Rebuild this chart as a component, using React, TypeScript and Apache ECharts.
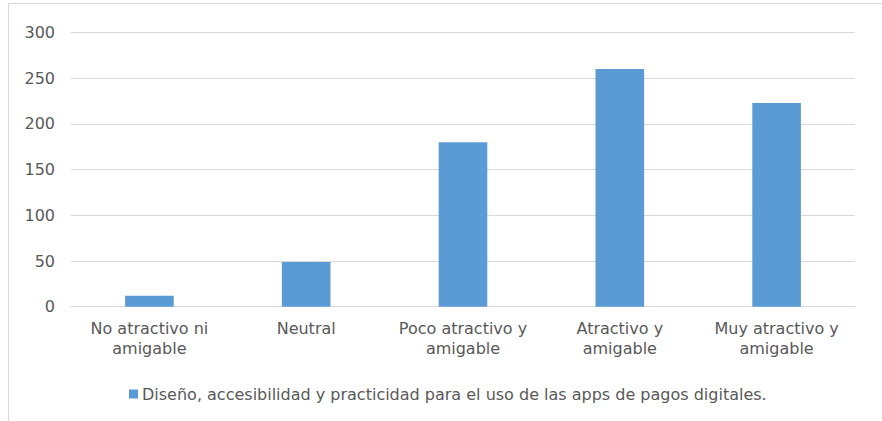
import React, { useEffect, useRef } from "react";
import * as echarts from "echarts";

const categories = [
  "No atractivo ni\namigable",
  "Neutral",
  "Poco atractivo y\namigable",
  "Atractivo y\namigable",
  "Muy atractivo y\namigable",
];
const values = [12, 49, 180, 260, 223];
const seriesName =
  "Diseño, accesibilidad y practicidad para el uso de las apps de pagos digitales.";
const yMin = 0;
const yMax = 300;
const yInterval = 50;

export default function App() {
  const ref = useRef<HTMLDivElement>(null);
  useEffect(() => {
    if (!ref.current) return;
    const chart = echarts.init(ref.current, undefined, { renderer: "svg" });
    const font = "'DejaVu Sans', Verdana, sans-serif";
    chart.setOption({
      animation: false,
      backgroundColor: "#ffffff",
      textStyle: { fontFamily: font },
      graphic: [
        {
          type: "rect",
          shape: { x: 8.5, y: 3.5, width: 900, height: 440 },
          style: { fill: "none", stroke: "#d9d9d9", lineWidth: 1 },
          silent: true,
        },
      ],
      grid: { left: 71, right: 27, top: 32.5, bottom: 114.3, containLabel: false },
      legend: {
        left: 129,
        top: 386,
        padding: 0,
        icon: "rect",
        itemWidth: 9,
        itemHeight: 9,
        itemGap: 10,
        textStyle: { color: "#595959", fontSize: 16, fontFamily: font, padding: [0, 0, 0, -1] },
        data: [seriesName],
      },
      xAxis: {
        type: "category",
        data: categories,
        axisLine: { show: true, lineStyle: { color: "#d9d9d9", width: 1 } },
        axisTick: { show: false },
        axisLabel: {
          color: "#595959",
          fontSize: 16,
          lineHeight: 20,
          margin: 12,
          interval: 0,
          fontFamily: font,
        },
      },
      yAxis: {
        type: "value",
        min: yMin,
        max: yMax,
        interval: yInterval,
        axisLine: { show: false },
        axisTick: { show: false },
        axisLabel: { color: "#595959", fontSize: 16, margin: 16, fontFamily: font },
        splitLine: { lineStyle: { color: "#d9d9d9", width: 1 } },
      },
      series: [
        {
          name: seriesName,
          type: "bar",
          data: values,
          barWidth: "31%",
          itemStyle: { color: "#5B9BD5" },
        },
      ],
    });
    return () => chart.dispose();
  }, []);
  return (
    <div
      ref={ref}
      style={{ position: "absolute", left: 0, top: 0, width: 882, height: 421 }}
    />
  );
}
